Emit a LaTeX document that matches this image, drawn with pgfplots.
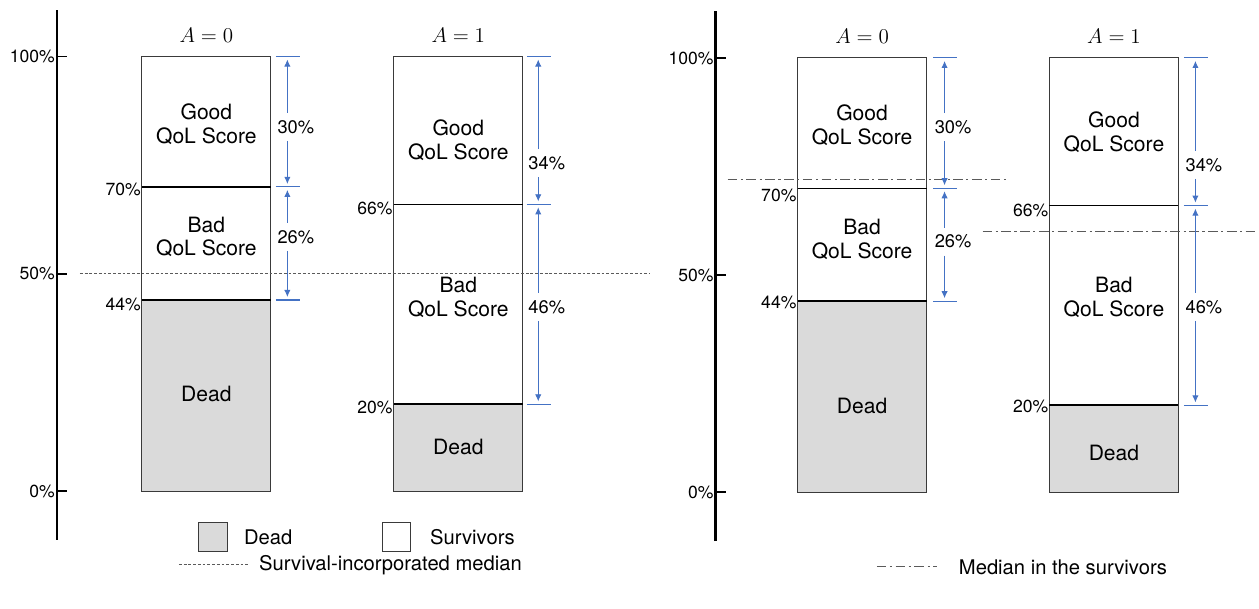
\documentclass[border=0pt]{standalone}
\usepackage{pgfplots}
\pgfplotsset{compat=1.18}
\usepackage{fontspec}
\setmainfont{TeX Gyre Heros}
\usetikzlibrary{arrows.meta}
\definecolor{deadfill}{HTML}{DADADA}
\definecolor{barline}{HTML}{3A3A3A}
\definecolor{arrowblue}{HTML}{4472C4}
\definecolor{medgray}{HTML}{5A5A5A}
\newcommand{\barfont}{\fontsize{12}{13.6}\selectfont}
\newcommand{\pctfont}{\fontsize{10}{12}\selectfont}
\newcommand{\arrfont}{\fontsize{10.4}{12}\selectfont}
\newcommand{\legfont}{\fontsize{11.5}{13}\selectfont}
\newcommand{\ttlfont}{\fontsize{11.5}{13}\selectfont}

\pgfplotsset{panel/.style={
  scale only axis, clip=false,
  axis x line=none, axis y line*=left,
  height=10.6cm,
  ytick={0,50,100}, yticklabels={0\%,50\%,100\%},
  tick align=inside, major tick length=0.2cm,
  y axis line style={line width=1.4pt},
  ytick style={line width=0.9pt, black},
  yticklabel style={font=\pctfont, inner sep=1pt},
  /pgf/number format/assume math mode=true,
}}

% x, top, bottom, label y, label
\newcommand{\darrow}[5]{%
  \draw[arrowblue, line width=0.6pt] ([xshift=-0.23cm]axis cs:#1,#2) -- ([xshift=0.25cm]axis cs:#1,#2);
  \draw[arrowblue, line width=0.6pt] ([xshift=-0.23cm]axis cs:#1,#3) -- ([xshift=0.25cm]axis cs:#1,#3);
  \draw[arrowblue, line width=0.5pt, -{Latex[length=4pt,width=3.6pt]}] ([yshift=0.28cm]axis cs:#1,#4) -- ([yshift=-0.06cm]axis cs:#1,#2);
  \draw[arrowblue, line width=0.5pt, -{Latex[length=4pt,width=3.6pt]}] ([yshift=-0.28cm]axis cs:#1,#4) -- ([yshift=0.06cm]axis cs:#1,#3);
  \node[font=\arrfont, inner sep=0pt] at ([xshift=0.17cm]axis cs:#1,#4) {#5};
}

\begin{document}
\begin{tikzpicture}
\begin{scope}[x=0.02cm, y=-0.02cm, shift={(0,12.18cm)}]
  \path[use as bounding box] (0,0) rectangle (1259,609);
\end{scope}

% ---------------- Left panel ----------------
\begin{axis}[panel, xmin=57, xmax=660, width=12.06cm, ymin=-11.15, ymax=110.7,
  at={(1.14cm,1.38cm)}, anchor=south west]
  % A = 0
  \addplot[fill=deadfill, draw=barline, line width=0.6pt] coordinates {(142,0) (271,0) (271,44) (142,44)} -- cycle;
  \addplot[fill=white, draw=barline, line width=0.6pt] coordinates {(142,44) (271,44) (271,100) (142,100)} -- cycle;
  \addplot[black, line width=0.65pt] coordinates {(142,70) (271,70)};
  \addplot[black, line width=1.2pt] coordinates {(142,44) (271,44)};
  % A = 1
  \addplot[fill=deadfill, draw=barline, line width=0.6pt] coordinates {(394,0) (523,0) (523,20) (394,20)} -- cycle;
  \addplot[fill=white, draw=barline, line width=0.6pt] coordinates {(394,20) (523,20) (523,100) (394,100)} -- cycle;
  \addplot[black, line width=0.65pt] coordinates {(394,66) (523,66)};
  \addplot[black, line width=1.2pt] coordinates {(394,20) (523,20)};
  % survival-incorporated median
  \addplot[medgray, line width=0.6pt, dash pattern=on 1.6pt off 1.1pt] coordinates {(80,50) (650,50)};

  \node[font=\ttlfont] at (axis cs:206.5,104.9) {$A=0$};
  \node[font=\ttlfont] at (axis cs:458.5,104.9) {$A=1$};

  \node[align=center, font=\barfont] at (axis cs:206.5,84.5) {Good\\QoL Score};
  \node[align=center, font=\barfont] at (axis cs:206.5,58.5) {Bad\\QoL Score};
  \node[font=\barfont] at (axis cs:206.5,22.4) {Dead};
  \node[align=center, font=\barfont] at (axis cs:458.5,80.8) {Good\\QoL Score};
  \node[align=center, font=\barfont] at (axis cs:458.5,44.5) {Bad\\QoL Score};
  \node[font=\barfont] at (axis cs:458.5,10.2) {Dead};

  \node[font=\pctfont, anchor=east, inner sep=0.5pt] at ([yshift=-0.05cm]axis cs:142,70) {70\%};
  \node[font=\pctfont, anchor=east, inner sep=0.5pt] at ([yshift=-0.08cm]axis cs:142,44) {44\%};
  \node[font=\pctfont, anchor=east, inner sep=0.5pt] at ([yshift=-0.08cm]axis cs:394,66) {66\%};
  \node[font=\pctfont, anchor=east, inner sep=0.5pt] at ([yshift=-0.07cm]axis cs:394,20) {20\%};

  \darrow{287.5}{100}{70}{83.8}{30\%}
  \darrow{287.5}{70}{44}{58.5}{26\%}
  \darrow{538.5}{100}{66}{75.5}{34\%}
  \darrow{538.5}{66}{20}{42.4}{46\%}
\end{axis}

% ---------------- Right panel ----------------
\begin{axis}[panel, xmin=716, xmax=1259, width=10.86cm, ymin=-11.28, ymax=110.7,
  at={(14.32cm,1.35cm)}, anchor=south west]
  % A = 0
  \addplot[fill=deadfill, draw=barline, line width=0.6pt] coordinates {(798,0) (927,0) (927,44) (798,44)} -- cycle;
  \addplot[fill=white, draw=barline, line width=0.6pt] coordinates {(798,44) (927,44) (927,100) (798,100)} -- cycle;
  \addplot[black, line width=0.65pt] coordinates {(798,70) (927,70)};
  \addplot[black, line width=1.2pt] coordinates {(798,44) (927,44)};
  % A = 1
  \addplot[fill=deadfill, draw=barline, line width=0.6pt] coordinates {(1050,0) (1179,0) (1179,20) (1050,20)} -- cycle;
  \addplot[fill=white, draw=barline, line width=0.6pt] coordinates {(1050,20) (1179,20) (1179,100) (1050,100)} -- cycle;
  \addplot[black, line width=0.65pt] coordinates {(1050,66) (1179,66)};
  \addplot[black, line width=1.2pt] coordinates {(1050,20) (1179,20)};
  % medians in the survivors
  \addplot[medgray, line width=0.7pt, dash pattern=on 5.5pt off 2pt on 1.2pt off 2pt] coordinates {(728,72) (1010,72)};
  \addplot[medgray, line width=0.7pt, dash pattern=on 5.5pt off 2pt on 1.2pt off 2pt] coordinates {(983,60) (1259,60)};

  \node[font=\ttlfont] at (axis cs:862.5,104.9) {$A=0$};
  \node[font=\ttlfont] at (axis cs:1114.5,104.9) {$A=1$};

  \node[align=center, font=\barfont] at (axis cs:862.5,84.6) {Good\\QoL Score};
  \node[align=center, font=\barfont] at (axis cs:862.5,58.2) {Bad\\QoL Score};
  \node[font=\barfont] at (axis cs:862.5,19.9) {Dead};
  \node[align=center, font=\barfont] at (axis cs:1114.5,83) {Good\\QoL Score};
  \node[align=center, font=\barfont] at (axis cs:1114.5,44.8) {Bad\\QoL Score};
  \node[font=\barfont] at (axis cs:1114.5,9.1) {Dead};

  \node[font=\pctfont, anchor=east, inner sep=0.5pt] at ([yshift=-0.14cm]axis cs:798,70) {70\%};
  \node[font=\pctfont, anchor=east, inner sep=0.5pt] at ([yshift=-0.02cm]axis cs:798,44) {44\%};
  \node[font=\pctfont, anchor=east, inner sep=0.5pt] at ([yshift=-0.1cm]axis cs:1050,66) {66\%};
  \node[font=\pctfont, anchor=east, inner sep=0.5pt] at ([yshift=-0.02cm]axis cs:1050,20) {20\%};

  \darrow{945}{100}{70}{84.1}{30\%}
  \darrow{945}{70}{44}{57.7}{26\%}
  \darrow{1196}{100}{66}{75.4}{34\%}
  \darrow{1196}{66}{20}{42.7}{46\%}
\end{axis}

% ---------------- Legend ----------------
\begin{scope}[x=0.02cm, y=-0.02cm, shift={(0,12.18cm)}]
  \draw[barline, fill=deadfill, line width=0.6pt] (199,523) rectangle (228,552);
  \node[anchor=west, font=\legfont] at (238,537) {Dead};
  \draw[barline, fill=white, line width=0.6pt] (383,523) rectangle (411,552);
  \node[anchor=west, font=\legfont] at (424,537) {Survivors};
  \draw[medgray, line width=0.6pt, dash pattern=on 1.6pt off 1.1pt] (179,565) -- (248,565);
  \node[anchor=west, font=\legfont] at (253,565) {Survival-incorporated median};
  \draw[medgray, line width=0.7pt, dash pattern=on 5.5pt off 2pt on 1.2pt off 2pt] (877,567) -- (937,567);
  \node[anchor=west, font=\legfont] at (953,567) {Median in the survivors};
\end{scope}
\end{tikzpicture}
\end{document}
